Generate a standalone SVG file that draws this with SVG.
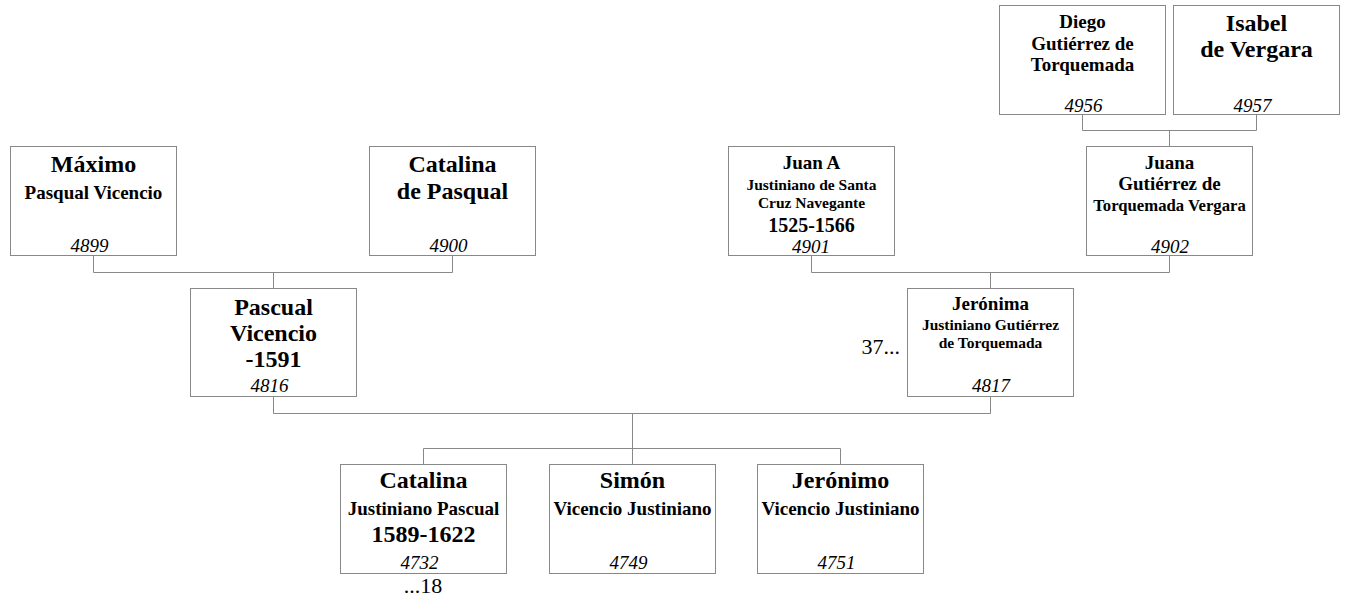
<svg xmlns="http://www.w3.org/2000/svg" width="1346" height="602" viewBox="0 0 1346 602">
<style>
.box{fill:#fff;stroke:#888;stroke-width:1}
.n{font-family:"Liberation Serif","Times New Roman",serif;font-weight:bold;text-anchor:middle;fill:#000}
.id{font-family:"Liberation Serif","Times New Roman",serif;font-style:italic;text-anchor:middle;font-size:19px;fill:#000}
.note{font-family:"Liberation Serif","Times New Roman",serif;font-size:22px;fill:#000}
.conn path{fill:none;stroke:#888;stroke-width:1}
.s24{font-size:24px}.s19{font-size:19px}.s15{font-size:15.5px}.s17{font-size:16.7px}.s20{font-size:20px}
</style>
<rect width="1346" height="602" fill="#fff"/>
<g class="conn">
<path d="M1082.5,114.5V130.5H1256.5V114.5M1169.5,130.5V146.5"/>
<path d="M93.5,255.5V272.5H452.5V255.5M273.5,272.5V288.5"/>
<path d="M811.5,255.5V272.5H1169.5V255.5M990.5,272.5V288.5"/>
<path d="M273.5,396.5V413.5H990.5V396.5M632.5,413.5V464.5"/>
<path d="M423.5,464.5V448.5H840.5V464.5"/>
</g>
<g id="n4956">
<rect class="box" x="999.5" y="5.5" width="166" height="109"/>
<text class="n s19" x="1082.5" y="27.5">Diego</text>
<text class="n s19" x="1082.5" y="49.5">Gutiérrez de</text>
<text class="n s19" x="1082.5" y="70.5">Torquemada</text>
<text class="id" x="1083.5" y="111.5">4956</text>
</g>
<g id="n4957">
<rect class="box" x="1173.5" y="5.5" width="166" height="109"/>
<text class="n s24" x="1256.5" y="31">Isabel</text>
<text class="n s24" x="1256.5" y="56.5">de Vergara</text>
<text class="id" x="1252.5" y="111.5">4957</text>
</g>
<g id="n4899">
<rect class="box" x="10.5" y="146.5" width="166" height="109"/>
<text class="n s24" x="93.5" y="171.7">Máximo</text>
<text class="n s19" x="93.5" y="199">Pasqual Vicencio</text>
<text class="id" x="89.5" y="251.5">4899</text>
</g>
<g id="n4900">
<rect class="box" x="369.5" y="146.5" width="166" height="109"/>
<text class="n s24" x="452.5" y="171.7">Catalina</text>
<text class="n s24" x="452.5" y="199">de Pasqual</text>
<text class="id" x="448.5" y="251.5">4900</text>
</g>
<g id="n4901">
<rect class="box" x="728.5" y="146.5" width="166" height="109"/>
<text class="n s19" x="811.5" y="168.5">Juan A</text>
<text class="n s15" x="811.5" y="190">Justiniano de Santa</text>
<text class="n s15" x="811.5" y="207.5">Cruz Navegante</text>
<text class="n s20" x="811.5" y="232">1525-1566</text>
<text class="id" x="811" y="253">4901</text>
</g>
<g id="n4902">
<rect class="box" x="1086.5" y="146.5" width="166" height="109"/>
<text class="n s19" x="1169.5" y="168.5">Juana</text>
<text class="n s19" x="1169.5" y="190">Gutiérrez de</text>
<text class="n s17" x="1169.5" y="211">Torquemada Vergara</text>
<text class="id" x="1170" y="253">4902</text>
</g>
<g id="n4816">
<rect class="box" x="190.5" y="288.5" width="166" height="108"/>
<text class="n s24" x="273.5" y="315">Pascual</text>
<text class="n s24" x="273.5" y="341">Vicencio</text>
<text class="n s24" x="273.5" y="367">-1591</text>
<text class="id" x="269.5" y="391.5">4816</text>
</g>
<g id="n4817">
<rect class="box" x="907.5" y="288.5" width="166" height="108"/>
<text class="n s19" x="990.5" y="309.5">Jerónima</text>
<text class="n s15" x="990.5" y="330">Justiniano Gutiérrez</text>
<text class="n s15" x="990.5" y="348.3">de Torquemada</text>
<text class="id" x="991" y="391.5">4817</text>
</g>
<text class="note" x="900" y="354" text-anchor="end">37...</text>
<g id="n4732">
<rect class="box" x="340.5" y="464.5" width="166" height="109"/>
<text class="n s24" x="423.5" y="488">Catalina</text>
<text class="n s19" x="423.5" y="515">Justiniano Pascual</text>
<text class="n s24" x="423.5" y="541.7">1589-1622</text>
<text class="id" x="419.5" y="568.5">4732</text>
</g>
<text class="note" x="423" y="593.3" text-anchor="middle">...18</text>
<g id="n4749">
<rect class="box" x="549.5" y="464.5" width="166" height="109"/>
<text class="n s24" x="632.5" y="488">Simón</text>
<text class="n s19" x="632.5" y="515">Vicencio Justiniano</text>
<text class="id" x="628.5" y="568.5">4749</text>
</g>
<g id="n4751">
<rect class="box" x="757.5" y="464.5" width="166" height="109"/>
<text class="n s24" x="840.5" y="488">Jerónimo</text>
<text class="n s19" x="840.5" y="515">Vicencio Justiniano</text>
<text class="id" x="836.5" y="568.5">4751</text>
</g>
</svg>
